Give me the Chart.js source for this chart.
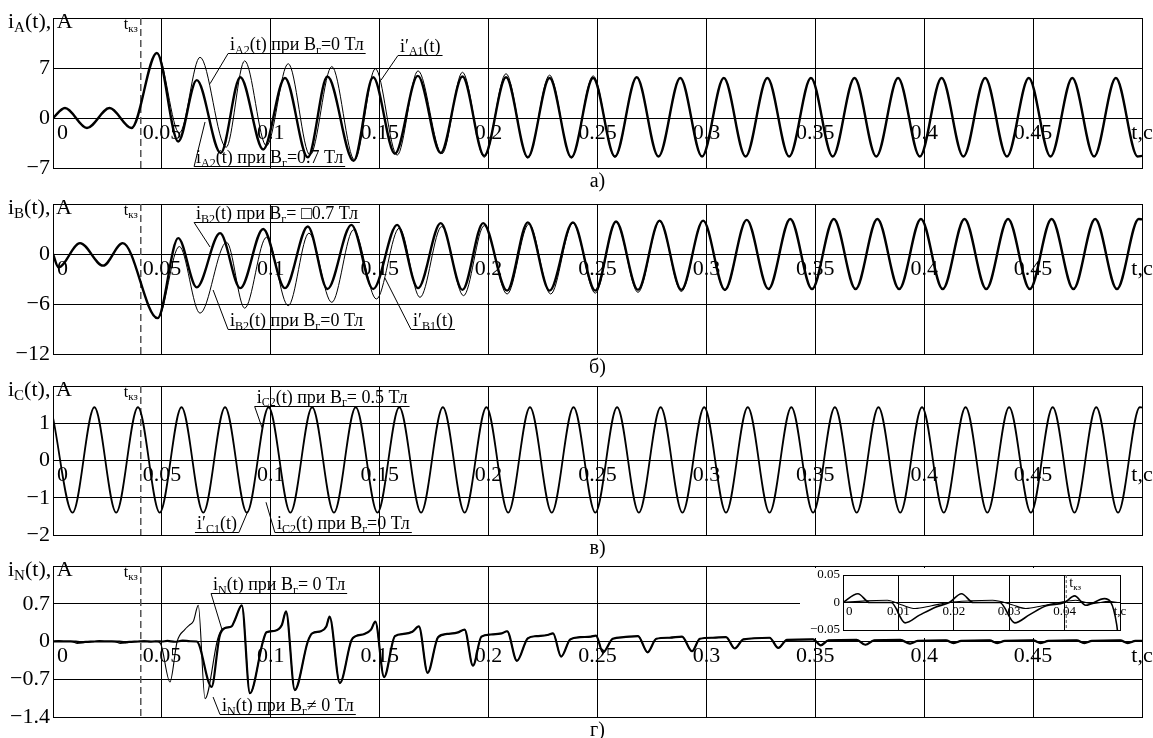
<!DOCTYPE html>
<html>
<head>
<meta charset="utf-8">
<script src="https://cdn.jsdelivr.net/npm/chart.js@4.4.1/dist/chart.umd.min.js"></script>
<style>
  html, body { margin: 0; padding: 0; background: #fff; width: 1153px; height: 738px; overflow: hidden; }
  canvas { position: absolute; }
</style>
</head>
<body>
<canvas id="panelA"></canvas>
<canvas id="panelB"></canvas>
<canvas id="panelC"></canvas>
<canvas id="panelD"></canvas>
<canvas id="insetD"></canvas>
<script>
// момент короткого замыкания, с
const tKz = 0.0403;

// подписи оси времени
const xTickVals = [0, 0.05, 0.1, 0.15, 0.2, 0.25, 0.3, 0.35, 0.4, 0.45, 0.5];
const xTickText = ["0", "0.05", "0.1", "0.15", "0.2", "0.25", "0.3", "0.35", "0.4", "0.45", "t,c"];
const insetTickVals = [0, 0.01, 0.02, 0.03, 0.04, 0.05];
const insetTickText = ["0", "0.01", "0.02", "0.03", "0.04", "t,c"];

// подписи оси токов
const yTicksA = [7, 0, -7];
const yTicksB = [0, -6, -12];
const yTicksC = [1, 0, -1, -2];
const yTicksD = [0.7, 0, -0.7, -1.4];
const yTicksInset = [0.05, 0, -0.05];

// --- фаза A ---
const tA_pre = [0, 0.0055, 0.0156, 0.026, 0.036];
const iA_pre = [0, 1.4, -1.4, 1.4, -1.4];
const tA_br07 = [0.0477, 0.0575, 0.066, 0.077, 0.086, 0.0965, 0.1065, 0.117, 0.126, 0.138, 0.147, 0.157, 0.1675, 0.178, 0.188, 0.198, 0.208, 0.218, 0.228, 0.238, 0.248, 0.258];
const iA_br07 = [9.1, -3.3, 5.3, -4.9, 5.7, -4.4, 5.6, -5.5, 5.8, -6.0, 5.7, -5.0, 5.9, -4.9, 5.8, -5.3, 5.7, -5.5, 5.6, -5.5, 5.6, -5.4];
const tA_br0 = [0.0477, 0.058, 0.0675, 0.0795, 0.088, 0.098, 0.108, 0.118, 0.128, 0.1385, 0.148, 0.158, 0.1676, 0.1786, 0.188, 0.198, 0.208, 0.218, 0.228, 0.238, 0.248, 0.258];
const iA_br0 = [9.1, -2.1, 8.5, -4.1, 8.0, -3.9, 7.6, -5.2, 7.2, -5.9, 6.9, -5.2, 6.6, -5.0, 6.4, -5.5, 6.2, -5.6, 6.0, -5.6, 5.9, -5.5];
const tA_tail = [0.268, 0.278, 0.288, 0.298, 0.308, 0.318, 0.328, 0.338, 0.348, 0.358, 0.368, 0.378, 0.388, 0.398, 0.408, 0.418, 0.428, 0.438, 0.448, 0.458, 0.468, 0.478, 0.488, 0.498, 0.5];
const iA_tail = [5.7, -5.4, 5.6, -5.4, 5.6, -5.4, 5.6, -5.4, 5.6, -5.4, 5.6, -5.4, 5.6, -5.4, 5.6, -5.4, 5.6, -5.4, 5.6, -5.4, 5.6, -5.4, 5.6, -5.4, -5.3];

// --- фаза B ---
const tB_pre = [0, 0.0025, 0.0124, 0.023, 0.032];
const iB_pre = [0, -1.6, 1.3, -1.4, 1.3];
const tB_brm07 = [0.048, 0.0575, 0.066, 0.0767, 0.086, 0.0965, 0.1065, 0.117, 0.126, 0.137, 0.147, 0.158, 0.1676, 0.178, 0.188, 0.1975, 0.2085, 0.218, 0.228, 0.2387, 0.249, 0.2585, 0.2686, 0.2785, 0.2885, 0.2985, 0.3085];
const iB_brm07 = [-7.7, 1.9, -4.0, 2.5, -4.1, 3.0, -4.1, 3.3, -4.2, 3.5, -4.2, 3.5, -4.1, 3.7, -4.3, 3.7, -4.4, 3.8, -4.4, 3.8, -4.4, 3.9, -4.3, 4.0, -4.3, 4.0, -4.3];
const tB_br0 = [0.048, 0.058, 0.0675, 0.0797, 0.088, 0.098, 0.108, 0.1175, 0.128, 0.138, 0.1485, 0.159, 0.1685, 0.1785, 0.1885, 0.198, 0.2085, 0.2185, 0.2285, 0.2387, 0.249, 0.2585, 0.2686, 0.2785, 0.2885, 0.2985, 0.3085];
const iB_br0 = [-7.7, 0.9, -7.1, 1.4, -6.5, 2.0, -6.2, 2.5, -5.8, 2.9, -5.4, 3.1, -5.2, 3.3, -5.0, 3.4, -4.8, 3.6, -4.8, 3.7, -4.7, 3.8, -4.6, 3.9, -4.5, 4.0, -4.4];
const tB_tail = [0.3185, 0.3285, 0.3385, 0.3485, 0.3585, 0.3685, 0.3785, 0.3885, 0.3985, 0.4085, 0.4185, 0.4285, 0.4385, 0.4485, 0.4585, 0.4685, 0.4785, 0.4885, 0.4985, 0.5];
const iB_tail = [4.1, -4.2, 4.2, -4.2, 4.2, -4.2, 4.2, -4.2, 4.2, -4.2, 4.2, -4.2, 4.2, -4.2, 4.2, -4.2, 4.2, -4.2, 4.2, 4.15];

// --- фаза C ---
const tC = [0, 0.009, 0.019, 0.029, 0.039, 0.049, 0.059, 0.069, 0.079, 0.089, 0.099, 0.109, 0.119, 0.129, 0.139, 0.149, 0.159, 0.169, 0.179, 0.189, 0.199, 0.209, 0.219, 0.229, 0.239, 0.249, 0.259, 0.269, 0.279, 0.289, 0.299, 0.309, 0.319, 0.329, 0.339, 0.349, 0.359, 0.369, 0.379, 0.389, 0.399, 0.409, 0.419, 0.429, 0.439, 0.449, 0.459, 0.469, 0.479, 0.489, 0.499, 0.5];
const iC = [1.15, -1.4, 1.43, -1.4, 1.43, -1.4, 1.43, -1.4, 1.43, -1.4, 1.43, -1.4, 1.43, -1.4, 1.43, -1.4, 1.43, -1.4, 1.43, -1.4, 1.43, -1.4, 1.43, -1.4, 1.43, -1.4, 1.43, -1.4, 1.43, -1.4, 1.43, -1.4, 1.43, -1.4, 1.43, -1.4, 1.43, -1.4, 1.43, -1.4, 1.43, -1.4, 1.43, -1.4, 1.43, -1.4, 1.43, -1.4, 1.43, -1.4, 1.43, 1.42];

// --- нейтраль N ---
const tN0_pre = [0, 0.0027, 0.0048, 0.0087, 0.0112, 0.0138, 0.0168, 0.0192, 0.0214, 0.0235, 0.0283, 0.031, 0.0337, 0.0367, 0.04, 0.0418, 0.0438, 0.0472, 0.0494];
const iN0_pre = [0, 0.016, 0, 0, -0.037, -0.023, -0.008, 0, 0.016, 0, 0, -0.037, -0.022, -0.006, 0, 0.012, -0.005, 0.007, -0.04];
const tN0_post = [0.0537, 0.057, 0.0605, 0.0625, 0.0645, 0.0667, 0.0698, 0.0757, 0.078];
const iN0_post = [-0.75, 0.0, 0.22, 0.3, 0.38, 0.67, -1.06, 0.06, 0.24];
const tNm_pre = [0, 0.004, 0.008, 0.0105, 0.013, 0.016, 0.019, 0.023, 0.027, 0.0305, 0.033, 0.036, 0.039, 0.042, 0.045, 0.048, 0.05];
const iNm_pre = [0, 0.003, 0.004, -0.004, -0.011, -0.006, 0, 0.003, 0.004, -0.004, -0.011, -0.006, 0, 0.004, -0.002, 0.002, 0];
const tNm_post = [0.0525, 0.056, 0.0595, 0.063, 0.066, 0.0728, 0.0765, 0.079];
const iNm_post = [0.01, -0.005, 0.015, 0.005, 0.0, -0.84, 0.1, 0.25];
const tN_tail = [0.082, 0.0835, 0.0867, 0.0904, 0.0964, 0.098, 0.102, 0.105, 0.107, 0.111, 0.117, 0.119, 0.123, 0.1255, 0.127, 0.1317, 0.137, 0.139, 0.143, 0.146, 0.148, 0.152, 0.157, 0.161, 0.165, 0.168, 0.172, 0.1768, 0.181, 0.186, 0.189, 0.1928, 0.1967, 0.201, 0.206, 0.2085, 0.213, 0.218, 0.222, 0.227, 0.2296, 0.2333, 0.2375, 0.242, 0.247, 0.2493, 0.2525, 0.257, 0.262, 0.2686, 0.273, 0.277, 0.283, 0.2888, 0.2934, 0.297, 0.303, 0.309, 0.313, 0.317, 0.329, 0.333, 0.337, 0.349, 0.3525, 0.356, 0.369, 0.373, 0.377, 0.389, 0.3935, 0.397, 0.41, 0.4135, 0.417, 0.43, 0.4335, 0.437, 0.45, 0.4535, 0.457, 0.47, 0.4735, 0.477, 0.49, 0.4935, 0.497, 0.5];
const iN_tail = [0.28, 0.4, 0.67, -0.96, 0.0, 0.17, 0.2, 0.3, 0.56, -0.9, 0.0, 0.15, 0.19, 0.28, 0.46, -0.77, 0.02, 0.1, 0.14, 0.22, 0.37, -0.66, 0.1, 0.14, 0.18, 0.28, -0.58, 0.08, 0.14, 0.17, 0.22, -0.45, 0.09, 0.13, 0.15, 0.19, -0.36, 0.06, 0.1, 0.12, 0.15, -0.28, 0.04, 0.08, 0.09, 0.11, -0.2, 0.05, 0.08, 0.1, -0.2, 0.05, 0.07, 0.09, -0.18, 0.05, 0.07, 0.08, -0.13, 0.04, 0.07, -0.12, 0.03, 0.04, -0.07, 0.02, 0.03, -0.06, 0.02, 0.03, -0.04, 0.01, 0.02, -0.03, 0.01, 0.02, -0.03, 0.01, 0.02, -0.03, 0.01, 0.02, -0.03, 0.01, 0.02, -0.03, 0.01, 0.01];

const FONT = '"Liberation Serif", "Times New Roman", serif';
const decorById = {};

// разбор строки вида i_{A2}(t) на обычный текст и индексы
function parseRich(s) {
  const out = [];
  const re = /_\{([^}]*)\}/g;
  let last = 0, m;
  while ((m = re.exec(s))) {
    if (m.index > last) out.push([s.slice(last, m.index), false]);
    out.push([m[1], true]);
    last = re.lastIndex;
  }
  if (last < s.length) out.push([s.slice(last), false]);
  return out;
}

function drawRich(ctx, s, x, y, size, measureOnly) {
  let cx = x;
  ctx.textAlign = "left";
  ctx.textBaseline = "alphabetic";
  for (const [txt, sub] of parseRich(s)) {
    const fs = sub ? Math.round(size * 0.66) : size;
    ctx.font = fs + "px " + FONT;
    if (!measureOnly) ctx.fillText(txt, cx, sub ? y + size * 0.2 : y);
    cx += ctx.measureText(txt).width;
  }
  return cx - x;
}

const fmt = (v) => (v < 0 ? "\u2212" : "") + Math.abs(v);
const pts = (ts, vs) => ts.map((t, i) => ({ x: t, y: vs[i] }));

function line(ts, vs, w) {
  return {
    data: pts(ts, vs),
    borderColor: "#000",
    borderWidth: w,
    pointRadius: 0,
    fill: false,
    cubicInterpolationMode: "monotone",
  };
}

const panelDecor = {
  id: "panelDecor",
  beforeDraw(chart) {
    const d = decorById[chart.canvas.id];
    if (!d.white) return;
    const { ctx, chartArea: a } = chart;
    ctx.save();
    ctx.fillStyle = "#fff";
    ctx.fillRect(0, 0, a.right + 1, chart.height);
    ctx.restore();
  },
  beforeDatasetsDraw(chart) {
    const d = decorById[chart.canvas.id];
    const { ctx, chartArea: a, scales: { x } } = chart;
    const px = x.getPixelForValue(tKz);
    ctx.save();
    ctx.strokeStyle = "#555";
    ctx.lineWidth = d.kzWidth;
    ctx.setLineDash(d.kzDash);
    ctx.beginPath();
    ctx.moveTo(px, a.top);
    ctx.lineTo(px, a.bottom);
    ctx.stroke();
    ctx.restore();
  },
  afterDraw(chart) {
    const d = decorById[chart.canvas.id];
    const { ctx, chartArea: a, scales: { x, y } } = chart;
    ctx.save();
    ctx.fillStyle = "#000";
    ctx.strokeStyle = "#000";

    // подписи по оси токов
    ctx.font = d.yFont + "px " + FONT;
    ctx.textAlign = "right";
    ctx.textBaseline = "middle";
    d.yTicks.forEach((v) => ctx.fillText(fmt(v), a.left - 3, y.getPixelForValue(v)));

    // подписи по оси времени вдоль нулевой линии
    ctx.font = d.xFont + "px " + FONT;
    ctx.textBaseline = "top";
    const y0 = y.getPixelForValue(0) + d.xGap;
    d.xVals.forEach((v, i) => {
      ctx.textAlign = i === 0 ? "left" : "center";
      ctx.fillText(d.xText[i], x.getPixelForValue(v) + (i === 0 ? d.xGap : 0), y0);
    });

    // t_кз
    const pk = x.getPixelForValue(tKz);
    const wk = drawRich(ctx, "t_{кз}", 0, 0, d.kzSize, true);
    const kx = d.kzRight ? pk + 3 : pk - 3 - wk;
    drawRich(ctx, "t_{кз}", kx, a.top + d.kzDy, d.kzSize);

    if (d.title) drawRich(ctx, d.title, 8, a.top + 10, 22);

    if (d.caption) {
      ctx.font = "20px " + FONT;
      ctx.textAlign = "center";
      ctx.textBaseline = "alphabetic";
      ctx.fillText(d.caption, (a.left + a.right) / 2, a.bottom + 19);
    }

    // выноски
    ctx.lineWidth = 1;
    (d.notes || []).forEach((n) => {
      const lx = x.getPixelForValue(n.at[0]);
      const ly = y.getPixelForValue(n.at[1]);
      const w = drawRich(ctx, n.text, lx, ly, 18);
      const uy = Math.round(ly + 3) + 0.5;
      const sx = n.side === "r" ? lx + w + 2 : lx - 2;
      ctx.beginPath();
      ctx.moveTo(lx - 2, uy);
      ctx.lineTo(lx + w + 2, uy);
      ctx.moveTo(sx, uy);
      ctx.lineTo(x.getPixelForValue(n.tip[0]), y.getPixelForValue(n.tip[1]));
      ctx.stroke();
    });
    ctx.restore();
  },
};

function axis(min, max, step, isX) {
  return {
    type: "linear",
    min: min,
    max: max,
    afterFit(s) {
      if (isX) s.height = 0;
      else s.width = 0;
    },
    ticks: { display: false, stepSize: step },
    grid: { color: "#000", lineWidth: 1, drawTicks: false },
    border: { display: true, color: "#000", width: 1 },
  };
}

function makePanel(id, left, top, width, height, pad, xMax, xStep, yMin, yMax, yStep, datasets, decor) {
  const cv = document.getElementById(id);
  cv.width = width;
  cv.height = height;
  cv.style.left = left + "px";
  cv.style.top = top + "px";
  decorById[id] = decor;
  return new Chart(cv, {
    type: "line",
    data: { datasets: datasets },
    options: {
      responsive: false,
      animation: false,
      devicePixelRatio: 1,
      layout: { padding: pad },
      plugins: { legend: { display: false }, tooltip: { enabled: false } },
      scales: {
        x: axis(0, xMax, xStep, true),
        y: axis(yMin, yMax, yStep, false),
      },
    },
    plugins: [panelDecor],
  });
}

const mainDecor = {
  yFont: 22, xFont: 22, xGap: 4, xVals: xTickVals, xText: xTickText,
  kzSize: 16, kzDy: 11, kzRight: false, kzWidth: 1.5, kzDash: [7, 4],
};

// а) фаза A
makePanel("panelA", 0, 0, 1153, 200, { left: 53, right: 11, top: 18, bottom: 32 }, 0.5, 0.05, -7, 14, 7, [
  line(tA_pre.concat(tA_br07, tA_tail), iA_pre.concat(iA_br07, iA_tail), 2.4),
  line(tA_pre.concat(tA_br0, tA_tail), iA_pre.concat(iA_br0, iA_tail), 1),
], Object.assign({}, mainDecor, {
  yTicks: yTicksA, title: "i_{A}(t), A", caption: "а)",
  notes: [
    { text: "i_{A2}(t) при B_{г}=0 Тл", at: [0.0813, 9.5], tip: [0.0721, 4.8], side: "l" },
    { text: "i\u2032_{A1}(t)", at: [0.1593, 9.3], tip: [0.1506, 5.3], side: "l" },
    { text: "i_{A2}(t) при B_{г}=0.7 Тл", at: [0.0657, -6.3], tip: [0.0698, -0.56], side: "l" },
  ],
}));

// б) фаза B
makePanel("panelB", 0, 186, 1153, 196, { left: 53, right: 11, top: 18, bottom: 28 }, 0.5, 0.05, -12, 6, 6, [
  line(tB_pre.concat(tB_brm07, tB_tail), iB_pre.concat(iB_brm07, iB_tail), 2.4),
  line(tB_pre.concat(tB_br0, tB_tail), iB_pre.concat(iB_br0, iB_tail), 1),
], Object.assign({}, mainDecor, {
  yTicks: yTicksB, title: "i_{B}(t), A", caption: "б)",
  notes: [
    { text: "i_{B2}(t) при B_{г}= \u25A10.7 Тл", at: [0.0657, 4.2], tip: [0.0721, 0.84], side: "l" },
    { text: "i_{B2}(t) при B_{г}=0 Тл", at: [0.0813, -8.64], tip: [0.0735, -4.32], side: "l" },
    { text: "i\u2032_{B1}(t)", at: [0.1653, -8.64], tip: [0.1524, -2.88], side: "l" },
  ],
}));

// в) фаза C
makePanel("panelC", 0, 370, 1153, 190, { left: 53, right: 11, top: 16, bottom: 25 }, 0.5, 0.05, -2, 2, 1, [
  line(tC, iC, 1.8),
], Object.assign({}, mainDecor, {
  yTicks: yTicksC, title: "i_{C}(t), A", caption: "в)",
  notes: [
    { text: "i_{C2}(t) при B_{г}= 0.5 Тл", at: [0.0935, 1.55], tip: [0.096, 0.88], side: "l" },
    { text: "i\u2032_{C1}(t)", at: [0.0661, -1.84], tip: [0.0895, -1.36], side: "r" },
    { text: "i_{C2}(t) при B_{г}=0 Тл", at: [0.1028, -1.84], tip: [0.0978, -1.12], side: "l" },
  ],
}));

// г) ток нейтрали
const seriesN0 = [tN0_pre.concat(tN0_post, tN_tail), iN0_pre.concat(iN0_post, iN_tail)];
const seriesNm = [tNm_pre.concat(tNm_post, tN_tail), iNm_pre.concat(iNm_post, iN_tail)];

makePanel("panelD", 0, 552, 1153, 186, { left: 53, right: 11, top: 14, bottom: 21 }, 0.5, 0.05, -1.4, 1.4, 0.7, [
  line(seriesNm[0], seriesNm[1], 2.2),
  line(seriesN0[0], seriesN0[1], 1.1),
], Object.assign({}, mainDecor, {
  yTicks: yTicksD, title: "i_{N}(t), A", caption: "г)",
  notes: [
    { text: "i_{N}(t) при B_{г}= 0 Тл", at: [0.0735, 0.95], tip: [0.0776, 0.22], side: "l" },
    { text: "i_{N}(t) при B_{г}\u2260 0 Тл", at: [0.0776, -1.29], tip: [0.0735, -1.03], side: "l" },
  ],
}));

// врезка: начальный участок тока нейтрали
makePanel("insetD", 800, 568, 332, 70, { left: 43, right: 12, top: 7, bottom: 8 }, 0.05, 0.01, -0.05, 0.05, 0.05, [
  line(seriesN0[0], seriesN0[1], 1.6),
  line(seriesNm[0], seriesNm[1], 1.1),
], {
  white: true, yTicks: yTicksInset, yFont: 13, xFont: 13, xGap: 3,
  xVals: insetTickVals, xText: insetTickText,
  kzSize: 14, kzDy: 12, kzRight: true, kzWidth: 1, kzDash: [3, 2],
});
</script>
</body>
</html>
